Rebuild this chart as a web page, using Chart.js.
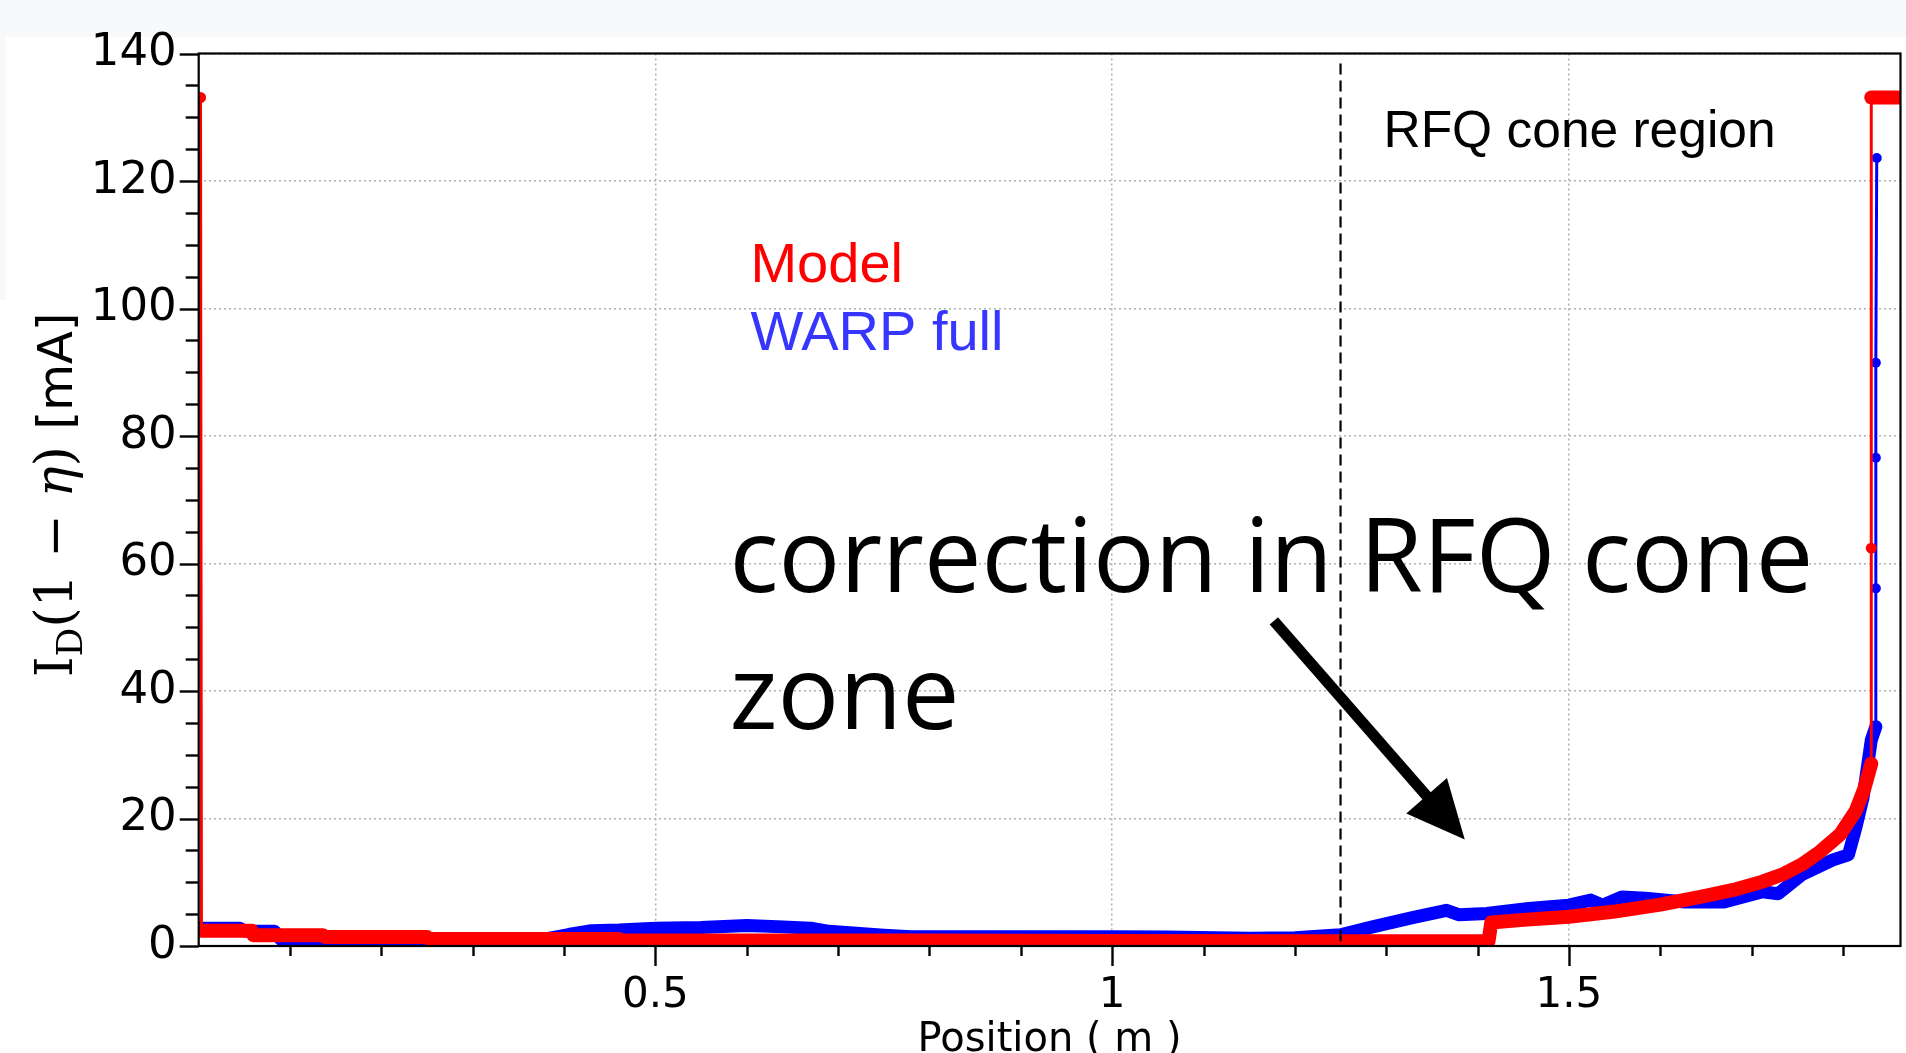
<!DOCTYPE html>
<html><head><meta charset="utf-8">
<script src="https://cdn.jsdelivr.net/npm/chart.js@4.4.1/dist/chart.umd.min.js"></script>
<style>
html,body{margin:0;padding:0;overflow:hidden;background:#fff;}
canvas{display:block;}
</style></head>
<body>
<canvas id="c" width="1906" height="1100"></canvas>
<script>
// ---- data ----
const modelX = [0.002, 0.003, 0.058, 0.060, 0.136, 0.138, 0.250, 0.252, 0.460, 0.462, 0.80, 1.00, 1.20, 1.412, 1.415, 1.45, 1.50, 1.55, 1.60, 1.644, 1.68, 1.712, 1.735, 1.755, 1.775, 1.797, 1.814, 1.823, 1.831, 1.831, 1.831, 1.845, 1.863];
const modelY = [133.1, 2.4, 2.4, 1.7, 1.7, 1.4, 1.4, 1.1, 1.1, 0.9, 0.85, 0.8, 0.75, 0.75, 3.7, 4.1, 4.6, 5.4, 6.5, 7.7, 8.8, 10.1, 11.3, 12.8, 14.8, 17.5, 21.2, 24.5, 28.6, 62.4, 133.1, 133.1, 133.1];
const warpX = [0.0, 0.045, 0.050, 0.083, 0.090, 0.20, 0.30, 0.38, 0.405, 0.43, 0.46, 0.50, 0.55, 0.60, 0.64, 0.67, 0.69, 0.72, 0.75, 0.78, 0.90, 1.00, 1.06, 1.15, 1.20, 1.25, 1.285, 1.33, 1.366, 1.38, 1.41, 1.456, 1.50, 1.524, 1.537, 1.558, 1.584, 1.627, 1.67, 1.712, 1.729, 1.755, 1.789, 1.806, 1.814, 1.822, 1.831, 1.836, 1.836, 1.836, 1.836, 1.837];
const warpY = [2.8, 2.8, 2.35, 2.3, 1.0, 1.0, 1.0, 1.1, 1.8, 2.4, 2.5, 2.8, 2.9, 3.2, 3.0, 2.8, 2.3, 2.0, 1.7, 1.45, 1.45, 1.45, 1.4, 1.2, 1.3, 1.75, 3.0, 4.5, 5.6, 4.9, 5.1, 5.9, 6.4, 7.2, 6.4, 7.7, 7.5, 6.9, 6.9, 8.5, 8.2, 11.2, 13.5, 14.3, 18.5, 23.3, 32.3, 34.4, 56.1, 76.6, 91.5, 123.6];
const xTickValues = [0.5, 1, 1.5];
const yTickValues = [0, 20, 40, 60, 80, 100, 120, 140];
const xRange = [0, 1.863];
const yRange = [0, 140];
const coneStartX = 1.25;
const arrowFrom = {x: 1.177, y: 51};
const arrowTo = {x: 1.386, y: 16.7};
const labels = [
  {text: 'Model', x: 0.604, y: 104.1, font: '56px "Liberation Sans"', color: '#ff0000'},
  {text: 'WARP full', x: 0.604, y: 93.5, font: '56px "Liberation Sans"', color: '#3636ff'},
  {text: 'RFQ cone region', x: 1.297, y: 125.3, font: '51.5px "Liberation Sans"', color: '#000'},
  {text: 'correction in RFQ cone', x: 0.581, y: 55.6, font: '102.5px "Open Sans"', color: '#000'},
  {text: 'zone', x: 0.581, y: 34.1, font: '102.5px "Open Sans"', color: '#000'}
];

const RED = '#ff0000', BLUE = '#0000ff';

function pts(xs, ys){ return xs.map((x,i)=>({x:x, y:ys[i]})); }
const steep = c => Math.abs(c.p1.parsed.y - c.p0.parsed.y) > 12;

const bgPlugin = {
  id: 'bg',
  beforeDraw(chart){
    const ctx = chart.ctx;
    ctx.save();
    ctx.fillStyle = '#ffffff';
    ctx.fillRect(0,0,chart.width,chart.height);
    ctx.fillStyle = '#f7f9fb';
    ctx.fillRect(0,0,chart.width,37);
    ctx.fillRect(0,37,6,263);
    ctx.restore();
  }
};

const overlayPlugin = {
  id: 'overlay',
  afterDatasetsDraw(chart){
    const ctx = chart.ctx, xs = chart.scales.x, ys = chart.scales.y, a = chart.chartArea;
    ctx.save();
    const px = xs.getPixelForValue(coneStartX);
    ctx.strokeStyle = '#000'; ctx.lineWidth = 2.2; ctx.setLineDash([11,6]);
    ctx.beginPath(); ctx.moveTo(px, a.top+10); ctx.lineTo(px, a.bottom); ctx.stroke();
    ctx.setLineDash([]);
    ctx.textBaseline = 'alphabetic'; ctx.textAlign = 'left';
    labels.forEach(l=>{
      ctx.font = l.font; ctx.fillStyle = l.color;
      ctx.fillText(l.text, xs.getPixelForValue(l.x), ys.getPixelForValue(l.y));
    });
    const x0 = xs.getPixelForValue(arrowFrom.x), y0 = ys.getPixelForValue(arrowFrom.y);
    const x1 = xs.getPixelForValue(arrowTo.x), y1 = ys.getPixelForValue(arrowTo.y);
    const ang = Math.atan2(y1-y0, x1-x0), hl = 58, hw = 27;
    const bx = x1 - hl*Math.cos(ang), by = y1 - hl*Math.sin(ang);
    ctx.strokeStyle = '#000'; ctx.lineWidth = 11; ctx.lineCap = 'butt';
    ctx.beginPath(); ctx.moveTo(x0,y0); ctx.lineTo(bx + 5*Math.cos(ang), by + 5*Math.sin(ang)); ctx.stroke();
    ctx.fillStyle = '#000';
    ctx.beginPath();
    ctx.moveTo(x1,y1);
    ctx.lineTo(bx + hw*Math.sin(ang), by - hw*Math.cos(ang));
    ctx.lineTo(bx - hw*Math.sin(ang), by + hw*Math.cos(ang));
    ctx.closePath(); ctx.fill();
    ctx.restore();
  },
  afterDraw(chart){
    const ctx = chart.ctx, xs = chart.scales.x, ys = chart.scales.y, a = chart.chartArea;
    ctx.save();
    ctx.strokeStyle = '#000';
    ctx.lineWidth = 2.4;
    for (let v = 0; v <= yRange[1] + 1e-9; v += 5) {
      const py = Math.round(ys.getPixelForValue(v)) + 0.5;
      const len = (v % 20 === 0) ? 19 : 13;
      ctx.beginPath(); ctx.moveTo(a.left - len, py); ctx.lineTo(a.left, py); ctx.stroke();
    }
    for (let k = 1; k <= 18; k++) {
      const v = k / 10;
      const px = Math.round(xs.getPixelForValue(v)) + 0.5;
      const len = (k % 5 === 0) ? 20 : 10;
      ctx.beginPath(); ctx.moveTo(px, a.bottom); ctx.lineTo(px, a.bottom + len); ctx.stroke();
    }
    ctx.lineWidth = 2.2;
    ctx.strokeRect(a.left, a.top, a.right - a.left, a.bottom - a.top);
    // y axis title
    const parts = [
      {t:'I', f:'52px "DejaVu Serif"', d:0},
      {t:'D', f:'36px "DejaVu Serif"', d:10},
      {t:'(1 \u2212 ', f:'52px "DejaVu Serif"', d:0},
      {t:'\u03B7', f:'italic 52px "DejaVu Serif"', d:0},
      {t:') ', f:'52px "DejaVu Serif"', d:0},
      {t:'[mA]', f:'48px "DejaVu Sans"', d:0}
    ];
    let total = 0;
    parts.forEach(p=>{ ctx.font = p.f; p.w = ctx.measureText(p.t).width; total += p.w; });
    const cy = (a.top + a.bottom) / 2 - 5;
    ctx.translate(72, cy + total/2);
    ctx.rotate(-Math.PI/2);
    ctx.fillStyle = '#000'; ctx.textBaseline = 'alphabetic'; ctx.textAlign = 'left';
    let cx = 0;
    parts.forEach(p=>{ ctx.font = p.f; ctx.fillText(p.t, cx, p.d); cx += p.w; });
    ctx.restore();
  }
};

new Chart(document.getElementById('c'), {
  type: 'line',
  data: {
    datasets: [
      {
        label: 'Model', data: pts(modelX, modelY),
        borderColor: RED, backgroundColor: RED, pointBackgroundColor: RED,
        borderWidth: 14, pointRadius: 5.5, pointBorderWidth: 0, pointHoverRadius: 0,
        tension: 0, borderJoinStyle: 'round', borderCapStyle: 'round',
        segment: { borderWidth: c => steep(c) ? 3 : 14 },
        clip: {left: 0, top: 6, right: 0, bottom: 0}
      },
      {
        label: 'WARP full', data: pts(warpX, warpY),
        borderColor: BLUE, backgroundColor: BLUE, pointBackgroundColor: BLUE,
        borderWidth: 13, pointRadius: 5, pointBorderWidth: 0, pointHoverRadius: 0,
        tension: 0, borderJoinStyle: 'round', borderCapStyle: 'round',
        segment: { borderWidth: c => steep(c) ? 3 : 13 },
        clip: {left: 0, top: 6, right: 0, bottom: 0}
      }
    ]
  },
  options: {
    responsive: false, animation: false, devicePixelRatio: 1, events: [],
    layout: { padding: { top: 53.5, right: 2, bottom: 35, left: 0 } },
    plugins: { legend: { display: false }, tooltip: { enabled: false } },
    scales: {
      x: {
        type: 'linear', min: xRange[0], max: xRange[1],
        afterBuildTicks: s => { s.ticks = xTickValues.map(v => ({value: v})); },
        afterFit: s => { s.height = 119; },
        ticks: { callback: v => String(v), font: { family: 'DejaVu Sans', size: 42 }, color: '#000', padding: 13, maxRotation: 0, autoSkip: false },
        grid: { color: '#b0b0b0', lineWidth: 1.5, tickLength: 12, tickColor: 'rgba(0,0,0,0)' },
        border: { display: false, dash: [2, 3] },
        title: { display: true, text: 'Position ( m )', font: { family: 'DejaVu Sans', size: 40 }, color: '#000', padding: 0 }
      },
      y: {
        type: 'linear', min: yRange[0], max: yRange[1],
        afterBuildTicks: s => { s.ticks = yTickValues.map(v => ({value: v})); },
        afterFit: s => { s.width = 198.7; },
        ticks: { font: { family: 'DejaVu Sans', size: 45 }, color: '#000', padding: 10 },
        grid: { color: '#b0b0b0', lineWidth: 1.5, tickLength: 12, tickColor: 'rgba(0,0,0,0)' },
        border: { display: false, dash: [2, 3] }
      }
    }
  },
  plugins: [bgPlugin, overlayPlugin]
});
</script>
</body></html>
